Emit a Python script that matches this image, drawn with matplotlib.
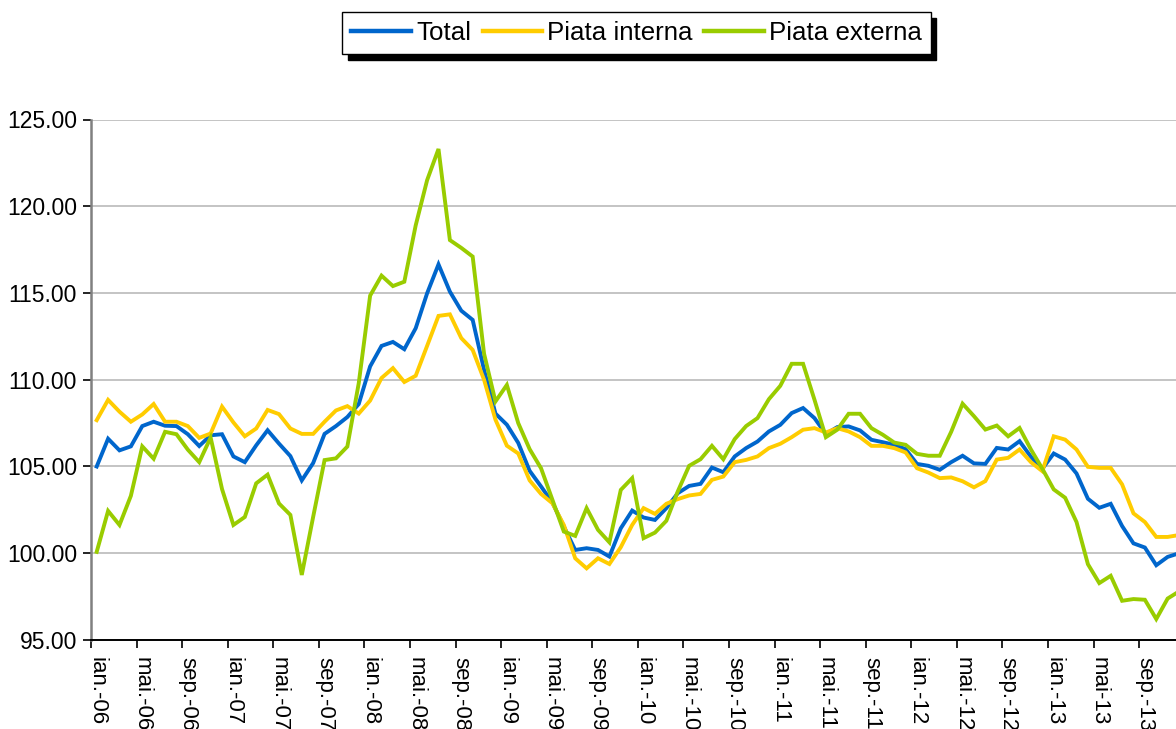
import matplotlib
matplotlib.use("Agg")
import matplotlib.pyplot as plt
from matplotlib.ticker import FixedLocator, FormatStrFormatter

plt.rcParams['font.family'] = ['Liberation Sans', 'DejaVu Sans']

# Monthly series, ian.-06 ... dec.-13
total = [105.0, 106.6, 105.93, 106.16, 107.33, 107.58, 107.35, 107.33, 106.86, 106.18,
         106.8, 106.86, 105.58, 105.25, 106.22, 107.09, 106.32, 105.6, 104.2, 105.2,
         106.88, 107.33, 107.85, 108.6, 110.77, 111.95, 112.18, 111.76, 112.97, 114.98,
         116.65, 115.08, 113.98, 113.45, 110.57, 108.05, 107.41, 106.36, 104.75, 103.85,
         102.92, 101.54, 100.19, 100.29, 100.19, 99.81, 101.44, 102.46, 102.06, 101.92,
         102.6, 103.46, 103.88, 104.0, 104.94, 104.67, 105.58, 106.06, 106.44, 107.02,
         107.4, 108.08, 108.37, 107.79, 106.87, 107.27, 107.31, 107.08, 106.54, 106.4,
         106.25, 106.0, 105.15, 105.04, 104.81, 105.25, 105.62, 105.18, 105.15, 106.07,
         105.98, 106.46, 105.56, 104.87, 105.75, 105.4, 104.6, 103.14, 102.62, 102.85,
         101.57, 100.57, 100.33, 99.31, 99.79, 100.0]

piata_interna = [107.67, 108.84, 108.16, 107.58, 108.0, 108.6, 107.58, 107.58, 107.33, 106.65,
                 106.9, 108.45, 107.54, 106.74, 107.19, 108.26, 108.02, 107.19, 106.88, 106.88,
                 107.58, 108.23, 108.48, 108.05, 108.8, 110.1, 110.67, 109.87, 110.23, 111.95,
                 113.68, 113.77, 112.4, 111.72, 110.0, 107.7, 106.2, 105.75, 104.2, 103.42,
                 102.88, 101.63, 99.71, 99.13, 99.71, 99.38, 100.35, 101.63, 102.6, 102.27,
                 102.85, 103.12, 103.33, 103.42, 104.23, 104.42, 105.25, 105.38, 105.58, 106.06,
                 106.31, 106.69, 107.12, 107.21, 106.96, 107.21, 107.02, 106.69, 106.19, 106.19,
                 106.06, 105.81, 104.9, 104.65, 104.33, 104.37, 104.15, 103.8, 104.16, 105.4,
                 105.5, 105.98, 105.25, 104.73, 106.74, 106.55, 105.98, 104.98, 104.92, 104.92,
                 103.97, 102.3, 101.8, 100.94, 100.94, 101.05]

piata_externa = [100.08, 102.44, 101.63, 103.31, 106.16, 105.45, 107.0, 106.86, 105.97, 105.25,
                 106.67, 103.7, 101.63, 102.09, 104.03, 104.53, 102.87, 102.21, 98.75, 102.1,
                 105.37, 105.47, 106.15, 109.8, 114.85, 116.0, 115.4, 115.65, 118.9, 121.5,
                 123.3, 118.05, 117.6, 117.1, 111.5, 108.75, 109.7, 107.5, 106.0, 104.9,
                 103.08, 101.25, 101.0, 102.6, 101.35, 100.63, 103.65, 104.33, 100.87, 101.19,
                 101.87, 103.56, 105.04, 105.42, 106.19, 105.42, 106.58, 107.33, 107.79, 108.88,
                 109.65, 110.92, 110.92, 108.85, 106.69, 107.12, 108.04, 108.04, 107.21, 106.83,
                 106.38, 106.25, 105.73, 105.62, 105.62, 107.0, 108.62, 107.9, 107.13, 107.36,
                 106.74, 107.22, 105.98, 104.87, 103.68, 103.2, 101.8, 99.37, 98.28, 98.7,
                 97.26, 97.36, 97.32, 96.21, 97.39, 97.8]

tick_labels = ['ian.-06', 'mai.-06', 'sep.-06', 'ian.-07', 'mai.-07', 'sep.-07',
               'ian.-08', 'mai.-08', 'sep.-08', 'ian.-09', 'mai.-09', 'sep.-09',
               'ian.-10', 'mai.-10', 'sep.-10', 'ian.-11', 'mai.-11', 'sep.-11',
               'ian.-12', 'mai.-12', 'sep.-12', 'ian.-13', 'mai-13', 'sep.-13']

series_names = ['Total', 'Piata interna', 'Piata externa']
colors = ['#0066CC', '#FFCC00', '#99CC00']

W, H = 1176, 729
fig = plt.figure(figsize=(W / 100, H / 100), dpi=100)
ax = fig.add_axes([91 / W, (H - 640) / H, 1 - 91 / W, (640 - 119.5) / H])

x = list(range(len(total)))
lines = []
for vals, name, c in zip([total, piata_interna, piata_externa], series_names, colors):
    ln, = ax.plot(x, vals, color=c, lw=2.8, label=name, solid_joinstyle='miter',
                  zorder=3, clip_on=True)
    lines.append(ln)

ax.set_ylim(95, 125)
ax.set_xlim(-0.5, (W - 97) / 11.39)
ax.set_yticks([95, 100, 105, 110, 115, 120, 125])
ax.yaxis.set_major_formatter(FormatStrFormatter('%.2f'))
ax.yaxis.grid(True, color='#b4b4b4', lw=1.1, zorder=0)
ax.set_axisbelow(True)

label_pos = [4 * k for k in range(len(tick_labels))]
ax.set_xticks(label_pos)
ax.set_xticklabels(tick_labels, rotation=-90, ha='center', va='top')
ax.xaxis.set_minor_locator(FixedLocator([p - 0.5 for p in label_pos]))
ax.tick_params(axis='x', which='major', length=0, pad=12, labelsize=16)
ax.tick_params(axis='x', which='minor', length=6, width=1.2, color='black', direction='out')
ax.tick_params(axis='y', which='major', length=6, width=1.2, color='black',
               direction='out', pad=4, labelsize=16.5)

for s in ['top', 'right']:
    ax.spines[s].set_visible(False)
ax.spines['left'].set_color('#808080')
ax.spines['left'].set_linewidth(1.8)
ax.spines['bottom'].set_color('black')
ax.spines['bottom'].set_linewidth(1.4)

leg = fig.legend(handles=lines, labels=series_names, loc='center',
                 bbox_to_anchor=(636.5 / W, 1 - 33 / H), ncol=3, fontsize=18.6,
                 frameon=True, fancybox=False, edgecolor='black', framealpha=1,
                 handlelength=2.3, handletextpad=0.2, columnspacing=0.45,
                 borderpad=0.35, borderaxespad=0,
                 shadow={'ox': 4, 'oy': -4, 'color': 'black', 'alpha': 1})
leg.get_frame().set_linewidth(1.0)
for lh in leg.get_lines():
    lh.set_linewidth(3.2)

fig.savefig('out.png', dpi=100)
